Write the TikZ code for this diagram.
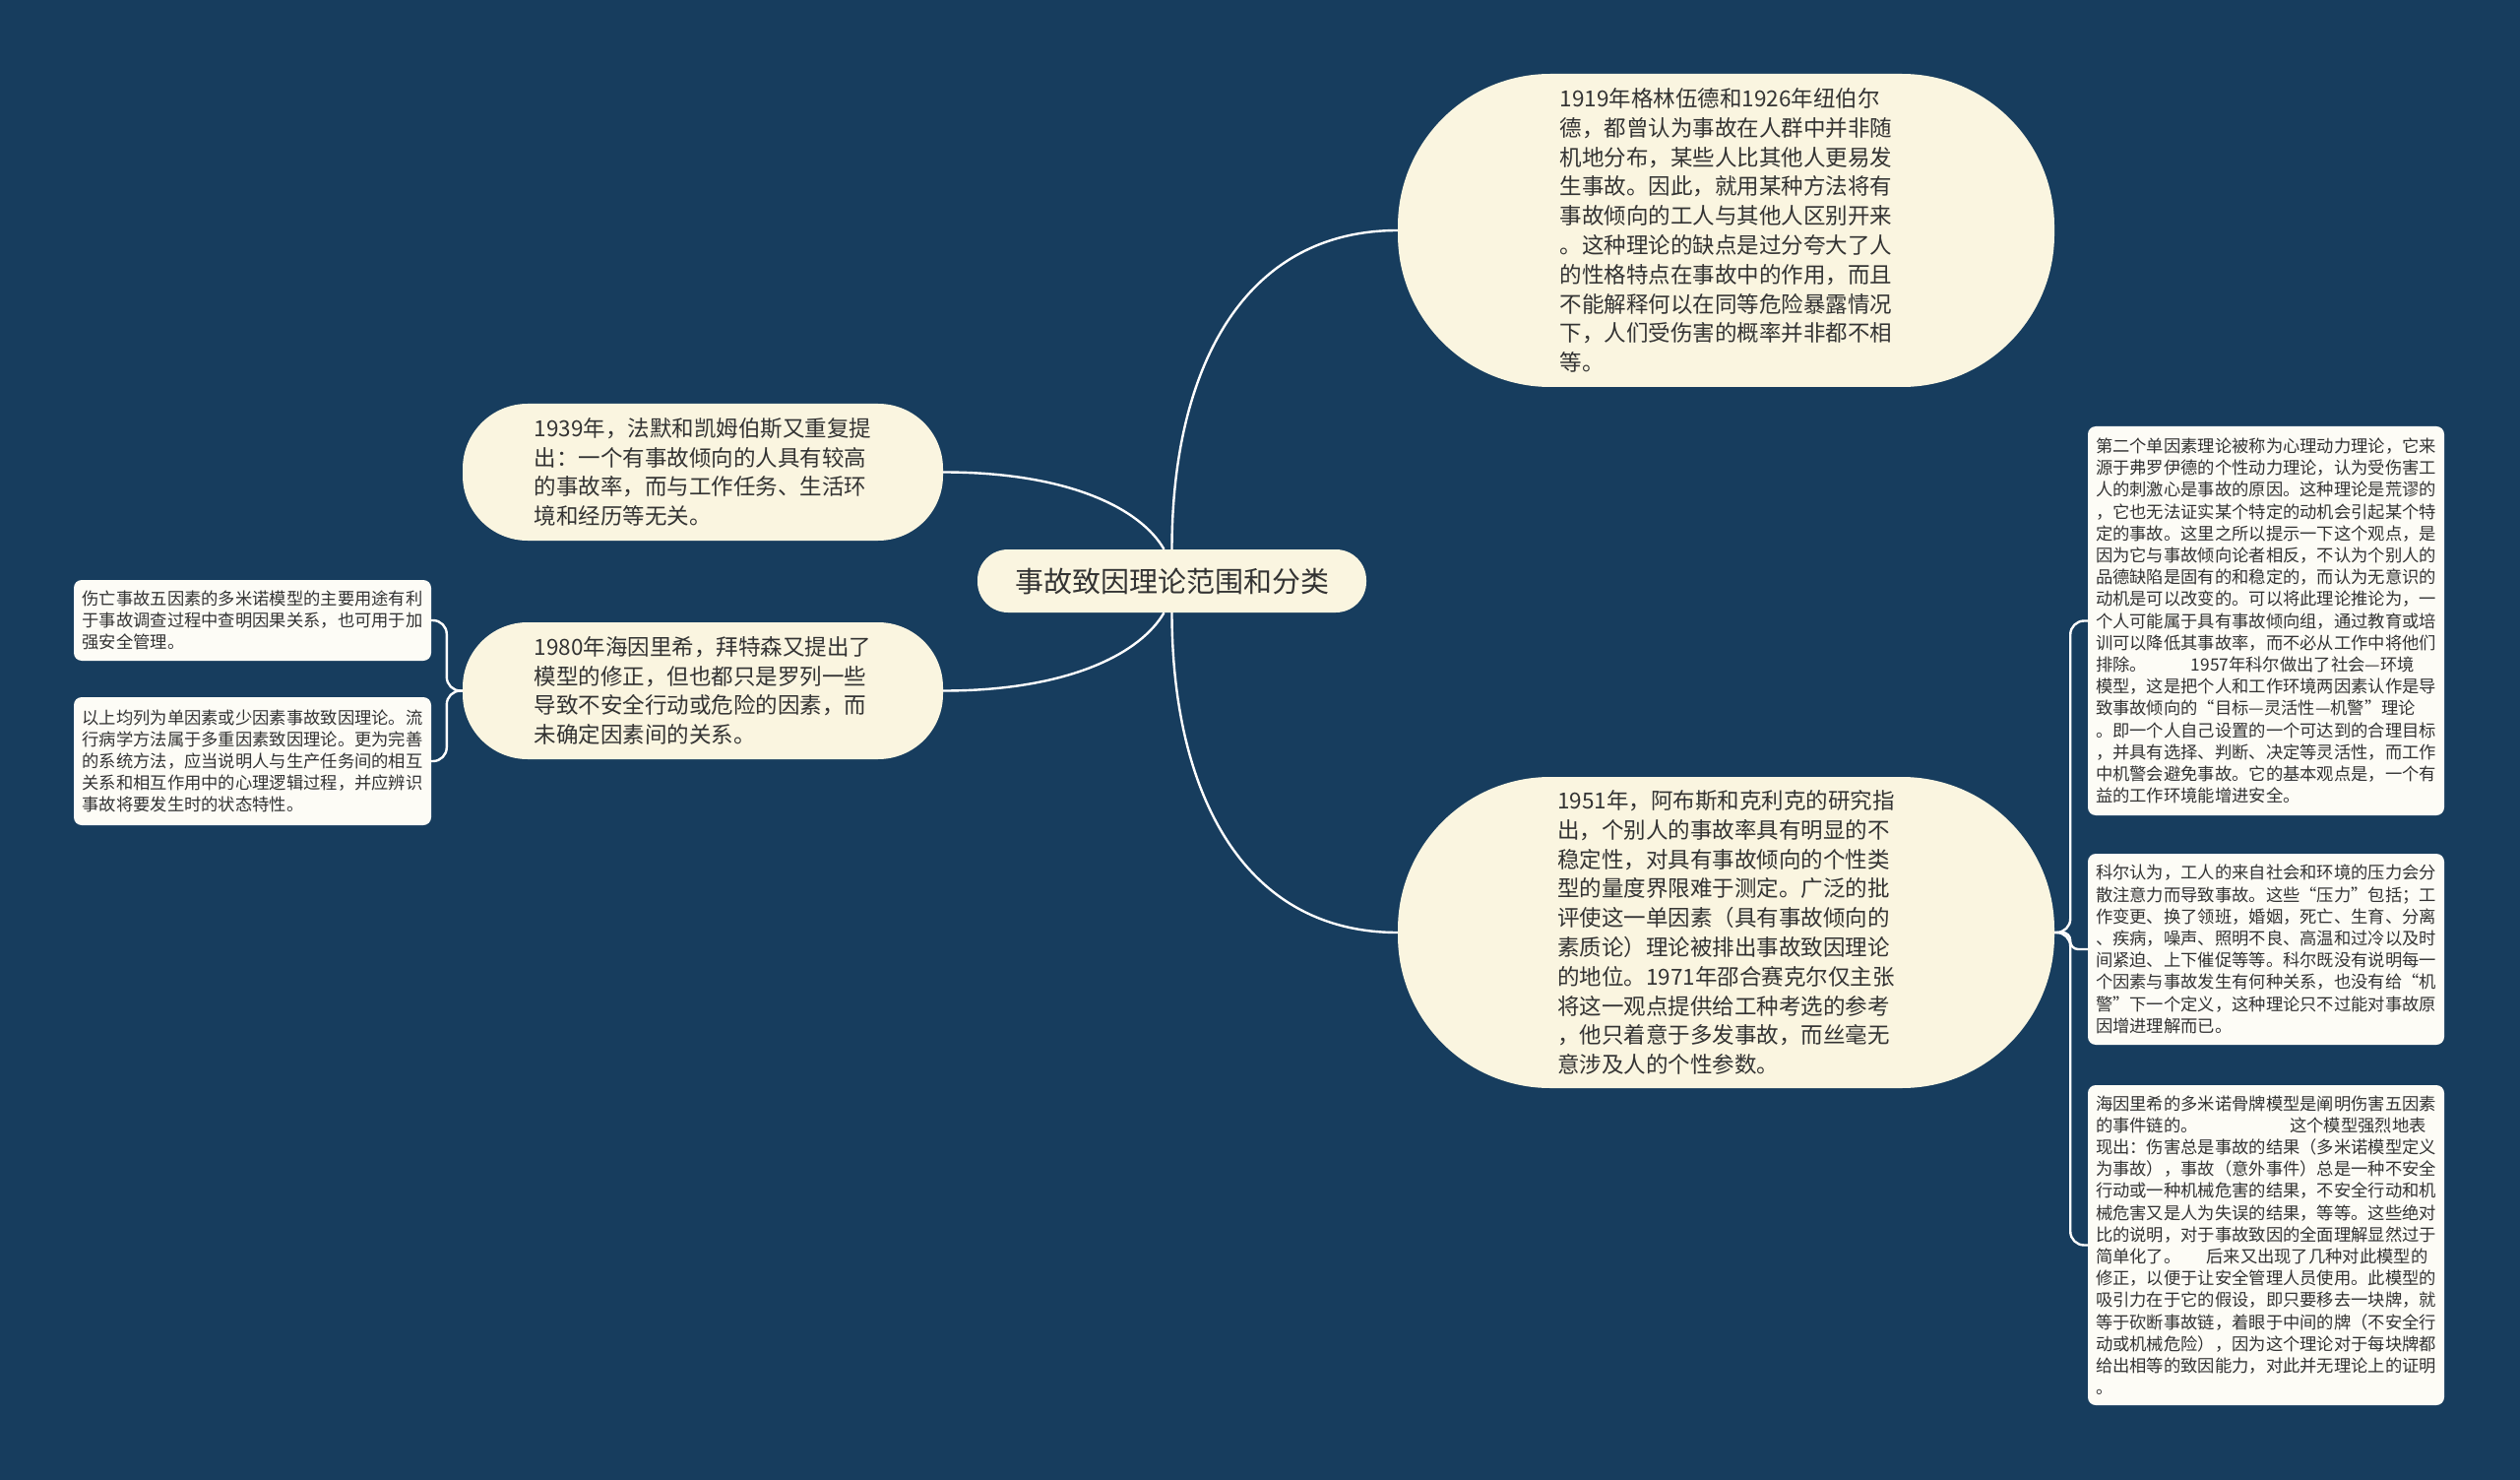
\documentclass[tikz,border=0pt]{standalone}
\usepackage{fontspec}
\setmainfont{Noto Sans CJK SC}
\definecolor{bg}{HTML}{173D5E}
\definecolor{cream}{HTML}{FAF5E0}
\definecolor{paper}{HTML}{FDFCF6}
\definecolor{ink}{HTML}{333333}
\begin{document}
\begin{tikzpicture}[x=1pt,y=-1pt,
  bignode/.style={fill=cream, text=ink, align=left, inner sep=0pt, font=\fontsize{22.5}{29.8}\selectfont},
  smallnode/.style={fill=paper, text=ink, align=left, inner sep=0pt, rounded corners=8pt, font=\fontsize{17.3}{22.2}\selectfont},
  link/.style={draw=white, line width=2.4pt},
]
\fill[bg] (0,0) rectangle (2560,1503);
\useasboundingbox (0,0) rectangle (2560,1503);

\node[bignode, minimum width=395pt, minimum height=64pt, rounded corners=31pt, font=\fontsize{29}{34}\selectfont] (c) at (1190.5,590) {事故致因理论范围和分类};

\node[bignode, minimum width=667pt, minimum height=318pt, rounded corners=155pt] (n19) at (1753.5,234) {1919年格林伍德和1926年纽伯尔\\德，都曾认为事故在人群中并非随\\机地分布，某些人比其他人更易发\\生事故。因此，就用某种方法将有\\事故倾向的工人与其他人区别开来\\。这种理论的缺点是过分夸大了人\\的性格特点在事故中的作用，而且\\不能解释何以在同等危险暴露情况\\下，人们受伤害的概率并非都不相\\等。};

\node[bignode, minimum width=667pt, minimum height=316pt, rounded corners=155pt] (n51) at (1753.5,947) {1951年，阿布斯和克利克的研究指\\出，个别人的事故率具有明显的不\\稳定性，对具有事故倾向的个性类\\型的量度界限难于测定。广泛的批\\评使这一单因素（具有事故倾向的\\素质论）理论被排出事故致因理论\\的地位。1971年邵合赛克尔仅主张\\将这一观点提供给工种考选的参考\\，他只着意于多发事故，而丝毫无\\意涉及人的个性参数。};

\node[bignode, minimum width=488pt, minimum height=139pt, rounded corners=66pt] (n39) at (714,479.5) {1939年，法默和凯姆伯斯又重复提\\出：一个有事故倾向的人具有较高\\的事故率，而与工作任务、生活环\\境和经历等无关。};

\node[bignode, minimum width=488pt, minimum height=139pt, rounded corners=66pt] (n80) at (714,701.5) {1980年海因里希，拜特森又提出了\\模型的修正，但也都只是罗列一些\\导致不安全行动或危险的因素，而\\未确定因素间的关系。};

\node[smallnode, minimum width=363pt, minimum height=82pt] (l1) at (256.5,630) {伤亡事故五因素的多米诺模型的主要用途有利\\于事故调查过程中查明因果关系，也可用于加\\强安全管理。};

\node[smallnode, minimum width=363pt, minimum height=130pt] (l2) at (256.5,773) {以上均列为单因素或少因素事故致因理论。流\\行病学方法属于多重因素致因理论。更为完善\\的系统方法，应当说明人与生产任务间的相互\\关系和相互作用中的心理逻辑过程，并应辨识\\事故将要发生时的状态特性。};

\node[smallnode, minimum width=362pt, minimum height=395pt] (ra) at (2302,630.5) {第二个单因素理论被称为心理动力理论，它来\\源于弗罗伊德的个性动力理论，认为受伤害工\\人的刺激心是事故的原因。这种理论是荒谬的\\，它也无法证实某个特定的动机会引起某个特\\定的事故。这里之所以提示一下这个观点，是\\因为它与事故倾向论者相反，不认为个别人的\\品德缺陷是固有的和稳定的，而认为无意识的\\动机是可以改变的。可以将此理论推论为，一\\个人可能属于具有事故倾向组，通过教育或培\\训可以降低其事故率，而不必从工作中将他们\\排除。\hspace{2.6em}1957年科尔做出了社会—环境\\模型，这是把个人和工作环境两因素认作是导\\致事故倾向的“目标—灵活性—机警”理论\\。即一个人自己设置的一个可达到的合理目标\\，并具有选择、判断、决定等灵活性，而工作\\中机警会避免事故。它的基本观点是，一个有\\益的工作环境能增进安全。};

\node[smallnode, minimum width=362pt, minimum height=194pt] (rb) at (2302,964) {科尔认为，工人的来自社会和环境的压力会分\\散注意力而导致事故。这些“压力”包括；工\\作变更、换了领班，婚姻，死亡、生育、分离\\、疾病，噪声、照明不良、高温和过冷以及时\\间紧迫、上下催促等等。科尔既没有说明每一\\个因素与事故发生有何种关系，也没有给“机\\警”下一个定义，这种理论只不过能对事故原\\因增进理解而已。};

\node[smallnode, minimum width=362pt, minimum height=325pt] (rc) at (2302,1264.5) {海因里希的多米诺骨牌模型是阐明伤害五因素\\的事件链的。\hspace{5.4em}这个模型强烈地表\\现出：伤害总是事故的结果（多米诺模型定义\\为事故），事故（意外事件）总是一种不安全\\行动或一种机械危害的结果，不安全行动和机\\械危害又是人为失误的结果，等等。这些绝对\\比的说明，对于事故致因的全面理解显然过于\\简单化了。\hspace{1.5em}后来又出现了几种对此模型的\\修正，以便于让安全管理人员使用。此模型的\\吸引力在于它的假设，即只要移去一块牌，就\\等于砍断事故链，着眼于中间的牌（不安全行\\动或机械危险），因为这个理论对于每块牌都\\给出相等的致因能力，对此并无理论上的证明\\。};

\draw[link] (c.north) .. controls +(0,-178) and +(-160,0) .. (n19.west);
\draw[link] (c.south) .. controls +(0,178) and +(-160,0) .. (n51.west);
\draw[link] ([xshift=-8pt]c.north) .. controls +(-23,-40) and +(130,0) .. (n39.east);
\draw[link] ([xshift=-8pt]c.south) .. controls +(-23,40) and +(130,0) .. (n80.east);

\draw[link, rounded corners=14pt] (n51.east) -- ++(16,0) |- (ra.west);
\draw[link, rounded corners=8pt] (n51.east) -- ++(16,0) |- (rb.west);
\draw[link, rounded corners=14pt] (n51.east) -- ++(16,0) |- (rc.west);

\draw[link, rounded corners=14pt] (n80.west) -- ++(-16,0) |- (l1.east);
\draw[link, rounded corners=14pt] (n80.west) -- ++(-16,0) |- (l2.east);
\end{tikzpicture}
\end{document}
